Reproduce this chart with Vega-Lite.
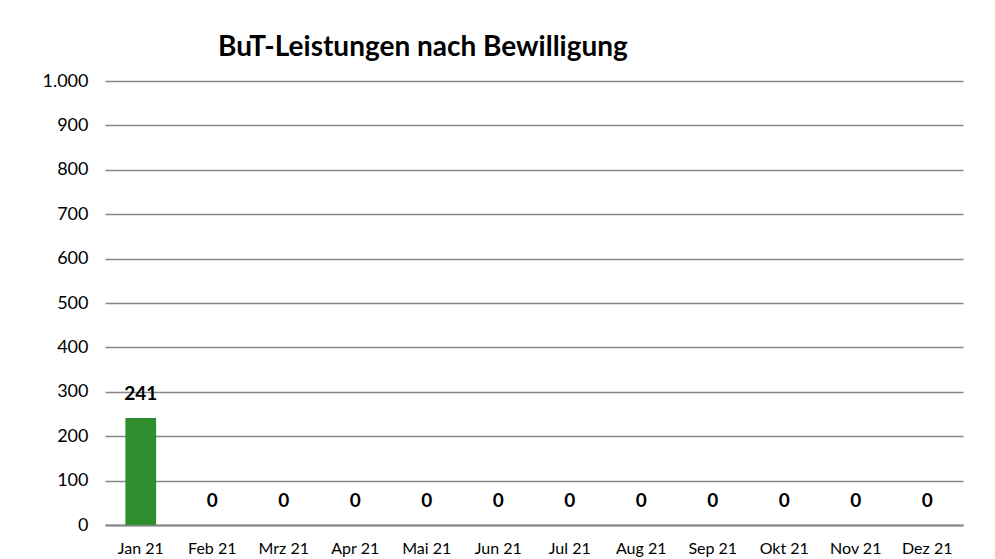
{
  "$schema": "https://vega.github.io/schema/vega-lite/v6.json",
  "autosize": "none",
  "width": 858,
  "height": 444,
  "padding": {"left": 105, "top": 81, "right": 32, "bottom": 34},
  "background": "white",
  "config": {
    "font": "Lato",
    "view": {"stroke": null},
    "locale": {"number": {"decimal": ",", "thousands": ".", "grouping": [3], "currency": ["", " €"]}}
  },
  "title": {
    "text": "BuT-Leistungen nach Bewilligung",
    "anchor": "start",
    "dx": 176,
    "offset": 10,
    "fontSize": 28,
    "fontWeight": "bold",
    "color": "#000000",
    "font": "Lato"
  },
  "data": {
    "values": [
      {"monat": "Jan 21", "wert": 241},
      {"monat": "Feb 21", "wert": 0},
      {"monat": "Mrz 21", "wert": 0},
      {"monat": "Apr 21", "wert": 0},
      {"monat": "Mai 21", "wert": 0},
      {"monat": "Jun 21", "wert": 0},
      {"monat": "Jul 21", "wert": 0},
      {"monat": "Aug 21", "wert": 0},
      {"monat": "Sep 21", "wert": 0},
      {"monat": "Okt 21", "wert": 0},
      {"monat": "Nov 21", "wert": 0},
      {"monat": "Dez 21", "wert": 0}
    ]
  },
  "encoding": {
    "x": {
      "field": "monat",
      "type": "nominal",
      "sort": null,
      "title": null,
      "scale": {"paddingInner": 0.57, "paddingOuter": 0.285},
      "axis": {
        "labelAngle": 0,
        "labelFontSize": 16,
        "labelColor": "#000000",
        "labelPadding": 15,
        "ticks": false,
        "domainColor": "#868686",
        "domainWidth": 2
      }
    },
    "y": {
      "field": "wert",
      "type": "quantitative",
      "title": null,
      "scale": {"domain": [0, 1000], "nice": false},
      "axis": {
        "values": [0, 100, 200, 300, 400, 500, 600, 700, 800, 900, 1000],
        "format": ",d",
        "labelFontSize": 18,
        "labelColor": "#000000",
        "labelPadding": 17,
        "ticks": false,
        "domain": false,
        "grid": true,
        "gridColor": "#868686",
        "gridWidth": 1.5
      }
    }
  },
  "layer": [
    {"mark": {"type": "bar", "color": "#2f8f2f"}},
    {
      "mark": {"type": "text", "baseline": "bottom", "dy": -14, "fontSize": 19, "fontWeight": "bold", "color": "#000000"},
      "encoding": {"text": {"field": "wert", "type": "quantitative", "format": ",d"}}
    }
  ]
}
